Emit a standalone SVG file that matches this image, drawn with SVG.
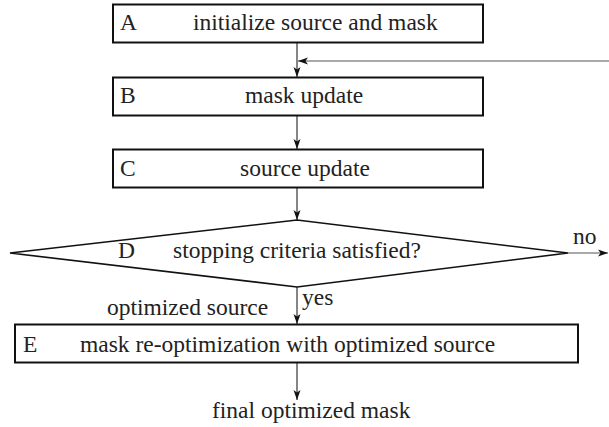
<svg xmlns="http://www.w3.org/2000/svg" width="609" height="427" viewBox="0 0 609 427" font-family="'Liberation Serif', 'DejaVu Serif', serif" font-size="23.5">
<style>
text{font-family:'Liberation Serif','DejaVu Serif',serif;font-size:23.5px;fill:#222}
.box{fill:#fff;stroke:#111;stroke-width:2}
.dia{fill:#fff;stroke:#111;stroke-width:1.6}
.con{stroke:#222;stroke-width:1.1;fill:none}
.fb{stroke:#555;stroke-width:1.1;fill:none}
</style>
<defs>
<marker id="ah" markerUnits="userSpaceOnUse" markerWidth="10" markerHeight="8" viewBox="0 0 10 8" refX="10" refY="4" orient="auto">
<path d="M0,0.5 L10,4 L0,7.5 L2.5,4 z" fill="#111"/>
</marker>
</defs>
<g id="connectors">
<line class="con" x1="297" y1="43" x2="297" y2="77" marker-end="url(#ah)"/>
<line class="fb" x1="609" y1="61" x2="298" y2="61" marker-end="url(#ah)"/>
<line class="con" x1="297" y1="116" x2="297" y2="149" marker-end="url(#ah)"/>
<line class="con" x1="297" y1="188" x2="297" y2="220" marker-end="url(#ah)"/>
<line class="con" x1="297" y1="287" x2="297" y2="324" marker-end="url(#ah)"/>
<line class="con" x1="297" y1="363" x2="297" y2="400" marker-end="url(#ah)"/>
<line class="fb" x1="568" y1="253" x2="608" y2="253" marker-end="url(#ah)"/>
<text x="573" y="244">no</text>
<text x="302" y="305">yes</text>
<text x="107" y="315">optimized source</text>
<text x="212" y="418">final optimized mask</text>
</g>
<g id="A">
<rect class="box" x="113" y="4.5" width="370" height="38"/>
<text x="120" y="30">A</text>
<text x="193" y="30">initialize source and mask</text>
</g>
<g id="B">
<rect class="box" x="113" y="77.5" width="370" height="38"/>
<text x="120" y="103">B</text>
<text x="245" y="103">mask update</text>
</g>
<g id="C">
<rect class="box" x="113" y="149.5" width="370" height="38"/>
<text x="120" y="176">C</text>
<text x="240" y="176">source update</text>
</g>
<g id="D">
<polygon class="dia" points="10,253 297,220 568,253 297,287"/>
<text x="118" y="258">D</text>
<text x="173" y="258">stopping criteria satisfied?</text>
</g>
<g id="E">
<rect class="box" x="15" y="324.5" width="563" height="38"/>
<text x="23" y="352">E</text>
<text x="80" y="352">mask re-optimization with optimized source</text>
</g>
</svg>
